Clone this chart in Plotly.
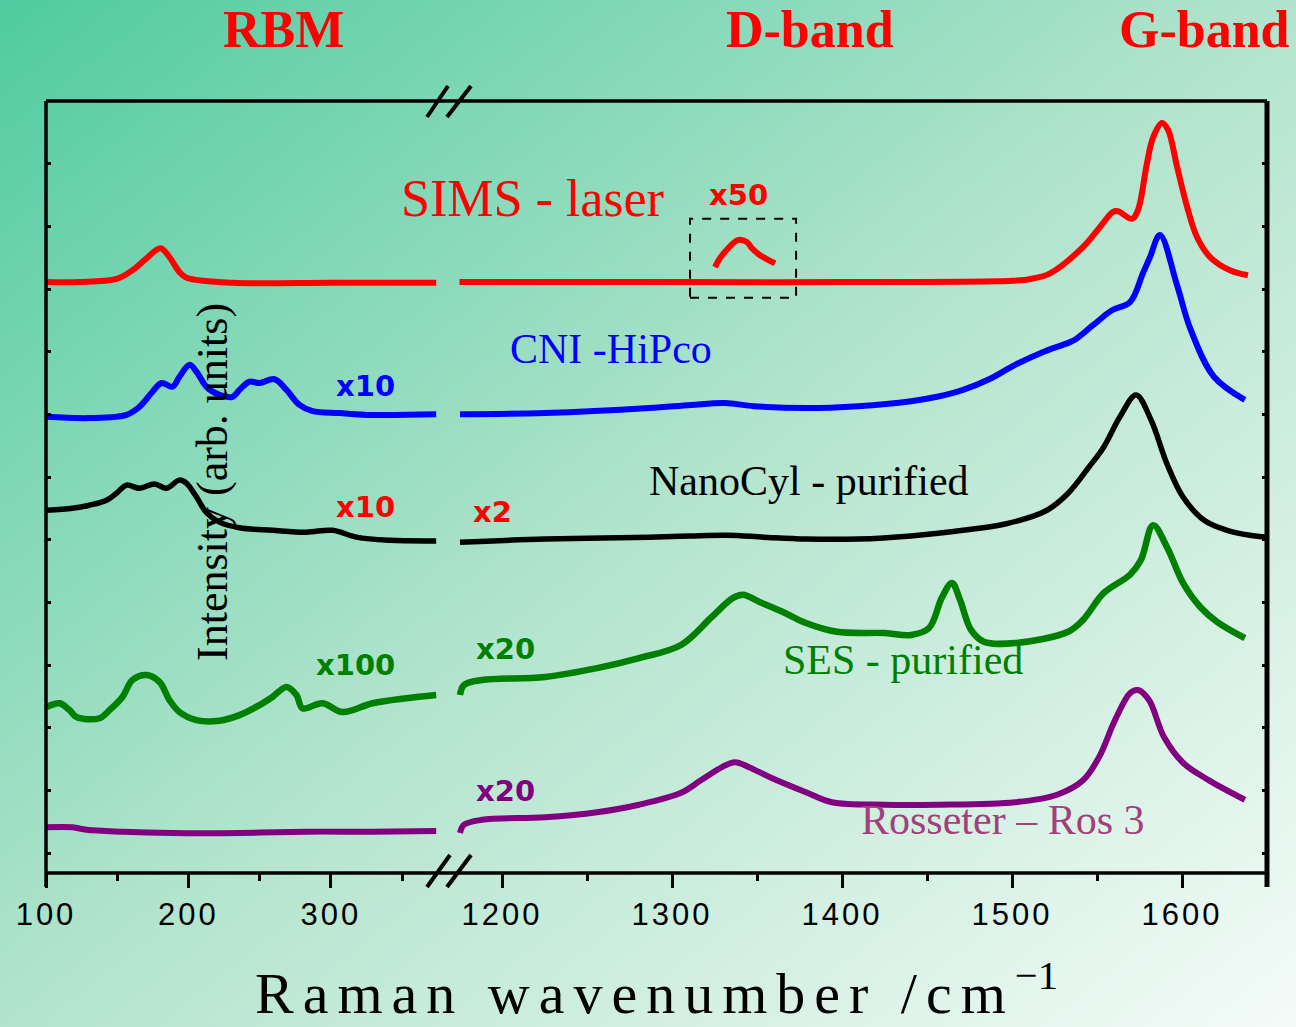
import base64
import plotly.graph_objects as go

# ---------------- data (Raman shift in cm^-1, intensity in offset arb. units) -------------
sims_low_x = [100, 123.5, 149.5, 160.7, 170.6, 180.4, 186.7, 193.7, 198.7, 231, 301.2, 374]
sims_low_y = [9.11, 9.11, 9.16, 9.30, 9.49, 9.65, 9.51, 9.27, 9.18, 9.10, 9.10, 9.10]
sims_high_x = [1175, 1300, 1400, 1500, 1511, 1522.4, 1541.8, 1551.8, 1559.4, 1562.4, 1570.6,
               1574.1, 1579.4, 1583, 1588.2, 1591.8, 1597.1, 1603, 1608.8, 1616.5, 1628.2, 1638.8]
sims_high_y = [9.11, 9.11, 9.11, 9.13, 9.16, 9.25, 9.67, 9.99, 10.23, 10.24, 10.12,
               10.26, 11.01, 11.42, 11.65, 11.54, 10.95, 10.31, 9.83, 9.51, 9.30, 9.22]
sims_d_x50_x = [1325.3, 1328.2, 1333, 1338.8, 1344, 1347, 1351.8, 1360.6]
sims_d_x50_y = [9.35, 9.49, 9.65, 9.78, 9.75, 9.65, 9.54, 9.41]

cni_low_x = [100, 130.5, 156.5, 165.7, 174.8, 181.1, 188.8, 193.7, 200.8, 205.7, 212.7, 221.8,
             231, 235.9, 242.9, 249.9, 260.5, 268.9, 278, 287.2, 306.1, 329.3, 374]
cni_low_y = [6.96, 6.94, 6.99, 7.12, 7.36, 7.50, 7.44, 7.60, 7.79, 7.68, 7.44, 7.31,
             7.28, 7.39, 7.52, 7.50, 7.56, 7.39, 7.15, 7.05, 7.02, 6.99, 7.00]
cni_high_x = [1175.3, 1225.3, 1286.5, 1311.2, 1331.2, 1348.2, 1378.8, 1409.4, 1440.6, 1455.9,
              1471.2, 1486.5, 1501.8, 1517, 1533, 1537, 1548, 1558.8, 1569.4, 1577, 1581.2,
              1587, 1597.1, 1604.7, 1618.8, 1637]
cni_high_y = [7.00, 7.02, 7.10, 7.15, 7.18, 7.13, 7.10, 7.13, 7.21, 7.28,
              7.39, 7.56, 7.79, 7.98, 8.14, 8.19, 8.43, 8.66, 8.79, 9.25, 9.51,
              9.86, 9.06, 8.38, 7.60, 7.23]

nano_low_x = [100.4, 118.6, 130.5, 142.5, 149.5, 156.5, 165.7, 176.2, 184.6, 193.7, 198.7,
              205.7, 212.7, 221.8, 235.9, 259, 282.9, 301.2, 318, 341.2, 374]
nano_low_y = [5.47, 5.50, 5.55, 5.63, 5.74, 5.87, 5.82, 5.89, 5.82, 5.95, 5.90,
              5.68, 5.43, 5.28, 5.19, 5.15, 5.12, 5.15, 5.04, 4.99, 4.98]
nano_high_x = [1175.3, 1225.3, 1286.5, 1311.2, 1333, 1354, 1378.8, 1409.4, 1440.6, 1471.2,
               1496, 1520.6, 1533, 1545.3, 1554, 1563.5, 1573, 1581.8, 1591, 1600.6, 1613,
               1626.5, 1640, 1650]
nano_high_y = [4.96, 5.01, 5.04, 5.06, 5.07, 5.04, 5.01, 5.01, 5.06, 5.15,
               5.25, 5.47, 5.74, 6.16, 6.48, 6.96, 7.31, 6.91, 6.22, 5.68, 5.31,
               5.15, 5.07, 5.04]

ses_low_x = [100.4, 109.5, 116.5, 121.4, 137.6, 144.6, 153.7, 160.7, 170.6, 179.7, 186.7,
             193.7, 205.7, 221.8, 235.9, 249.9, 259, 268.9, 275.9, 280.1, 294.2, 308.2,
             329.3, 353.2, 374]
ses_low_y = [2.33, 2.39, 2.28, 2.17, 2.15, 2.28, 2.49, 2.76, 2.84, 2.73, 2.44,
             2.25, 2.12, 2.11, 2.20, 2.36, 2.49, 2.65, 2.52, 2.31, 2.39, 2.25,
             2.39, 2.47, 2.52]
ses_high_x = [1175.3, 1177.6, 1188.2, 1225.3, 1255.9, 1280.6, 1305.3, 1323.5, 1335.9, 1341.8,
              1351.2, 1366.5, 1378.8, 1397, 1425.3, 1440.6, 1451.2, 1458.8, 1464.7, 1469.4,
              1475.9, 1483.5, 1501.8, 1533, 1541.8, 1554, 1569.4, 1575.9, 1583, 1591.2,
              1600.6, 1610.6, 1620.6, 1637]
ses_high_y = [2.52, 2.68, 2.76, 2.81, 2.95, 3.11, 3.32, 3.77, 4.07, 4.12,
              4.01, 3.83, 3.67, 3.53, 3.51, 3.48, 3.59, 4.08, 4.31, 4.04,
              3.56, 3.37, 3.35, 3.53, 3.72, 4.15, 4.44, 4.68, 5.23, 4.88,
              4.31, 3.93, 3.69, 3.43]

ros_low_x = [100, 118.6, 128.4, 153.7, 188.8, 235.9, 282.9, 329.3, 374]
ros_low_y = [0.41, 0.41, 0.37, 0.34, 0.32, 0.32, 0.34, 0.34, 0.35]
ros_high_x = [1175.3, 1177.6, 1188.2, 1225.3, 1255.9, 1280.6, 1305.3, 1317, 1329.4, 1337,
              1345.3, 1357.6, 1378.8, 1394.1, 1425.3, 1455.9, 1501.8, 1526.5, 1541.8, 1551.2,
              1560.6, 1569.4, 1574.1, 1580.6, 1589.4, 1600.6, 1615.9, 1637]
ros_high_y = [0.32, 0.45, 0.53, 0.57, 0.65, 0.77, 0.96, 1.16, 1.37, 1.45,
              1.37, 1.21, 0.97, 0.81, 0.77, 0.77, 0.81, 0.93, 1.16, 1.53,
              2.12, 2.55, 2.60, 2.44, 1.85, 1.44, 1.16, 0.85]

low_ticks = [100, 200, 300]
low_minor = [150, 250, 350]
high_ticks = [1200, 1300, 1400, 1500, 1600]
high_minor = [1250, 1350, 1450, 1550]

# ---------------- geometry helpers (pixel -> paper) ----------------
W, H = 1296, 1027
ML, MR, MT, MB = 46, 29, 101, 154
PW = W - ML - MR
PH = H - MT - MB


def qx(p):
    return (p - ML) / PW


def qy(p):
    return (MT + PH - p) / PH


SERIF = "Liberation Serif"
SANS = "DejaVu Sans"

fig = go.Figure()

series = [
    (sims_low_x, sims_low_y, sims_high_x, sims_high_y, "#ff0000", 6),
    (cni_low_x, cni_low_y, cni_high_x, cni_high_y, "#0000ff", 6),
    (nano_low_x, nano_low_y, nano_high_x, nano_high_y, "#000000", 5.5),
    (ses_low_x, ses_low_y, ses_high_x, ses_high_y, "#008000", 6.5),
    (ros_low_x, ros_low_y, ros_high_x, ros_high_y, "#800080", 6),
]
for lx, ly, hx, hy, col, w in series:
    fig.add_trace(go.Scatter(x=lx, y=ly, mode="lines", xaxis="x", yaxis="y",
                             line=dict(color=col, width=w, shape="spline", smoothing=1.0),
                             showlegend=False, hoverinfo="skip"))
    fig.add_trace(go.Scatter(x=hx, y=hy, mode="lines", xaxis="x2", yaxis="y2",
                             line=dict(color=col, width=w, shape="spline", smoothing=1.0),
                             showlegend=False, hoverinfo="skip"))
fig.add_trace(go.Scatter(x=sims_d_x50_x, y=sims_d_x50_y, mode="lines", xaxis="x2", yaxis="y2",
                         line=dict(color="#ff0000", width=6, shape="spline", smoothing=1.0),
                         showlegend=False, hoverinfo="skip"))

tickfont = dict(family="Liberation Sans", size=31, color="black")


def tt(v):
    return '<span style="letter-spacing:3px">%d</span>' % v


yr = [-20 / 62.67, 12]
fig.update_layout(
    width=W, height=H,
    margin=dict(l=ML, r=MR, t=MT, b=MB),
    paper_bgcolor="white",
    plot_bgcolor="rgba(0,0,0,0)",
    xaxis=dict(domain=[0, qx(ML + 276 * 1.424)], range=[100, 376], anchor="y",
               showgrid=False, zeroline=False, showline=False,
               ticks="outside", ticklen=14, tickwidth=3, tickcolor="black",
               tickvals=low_ticks, ticktext=[tt(v) for v in low_ticks], tickfont=tickfont,
               minor=dict(tickvals=low_minor, ticks="outside", ticklen=7, tickwidth=3,
                          tickcolor="black", showgrid=False)),
    xaxis2=dict(domain=[qx(451), 1], range=[1170, 1650], anchor="y2",
                showgrid=False, zeroline=False, showline=False,
                ticks="outside", ticklen=14, tickwidth=3, tickcolor="black",
                tickvals=high_ticks, ticktext=[tt(v) for v in high_ticks], tickfont=tickfont,
                minor=dict(tickvals=high_minor, ticks="outside", ticklen=7, tickwidth=3,
                           tickcolor="black", showgrid=False)),
    yaxis=dict(range=yr, anchor="x", showgrid=False, zeroline=False, showline=False,
               ticks="inside", ticklen=5, tickwidth=2.5, tickcolor="black",
               tickvals=list(range(0, 12)), showticklabels=False),
    yaxis2=dict(range=yr, anchor="x2", overlaying="y", side="right", showgrid=False,
                zeroline=False, showline=False, ticks="inside", ticklen=5, tickwidth=2.5,
                tickcolor="black", tickvals=list(range(0, 12)), showticklabels=False),
)

# background gradient
svg = ('<svg xmlns="http://www.w3.org/2000/svg" width="1296" height="1027" '
       'viewBox="0 0 1296 1027" preserveAspectRatio="none"><defs>'
       '<linearGradient id="g" x1="0" y1="0" x2="1" y2="1">'
       '<stop offset="0" stop-color="#50cba0"/>'
       '<stop offset="0.5" stop-color="#b2e4cd"/>'
       '<stop offset="1" stop-color="#f4fbf8"/>'
       '</linearGradient></defs><rect width="1296" height="1027" fill="url(#g)"/></svg>')
src = "data:image/svg+xml;base64," + base64.b64encode(svg.encode()).decode()
fig.add_layout_image(dict(source=src, xref="paper", yref="paper", x=qx(0), y=qy(0),
                          sizex=W / PW, sizey=H / PH, sizing="stretch",
                          xanchor="left", yanchor="top", layer="below"))

# frame and axis break
shapes = []
lw = 3.5
shapes.append(dict(type="line", xref="paper", yref="paper", x0=0, x1=1, y0=0, y1=0,
                   line=dict(color="black", width=lw)))
shapes.append(dict(type="line", xref="paper", yref="paper", x0=0, x1=1, y0=1, y1=1,
                   line=dict(color="black", width=lw)))
shapes.append(dict(type="line", xref="paper", yref="paper", x0=0, x1=0, y0=qy(887), y1=1,
                   line=dict(color="black", width=lw)))
shapes.append(dict(type="line", xref="paper", yref="paper", x0=1, x1=1, y0=qy(887), y1=1,
                   line=dict(color="black", width=5)))
for (ax0, ay0, ax1, ay1) in [(427, 887, 450, 855), (447, 887, 471, 855),
                             (427, 117, 448, 86), (447, 117, 471, 86)]:
    shapes.append(dict(type="line", xref="paper", yref="paper", x0=qx(ax0), y0=qy(ay0),
                       x1=qx(ax1), y1=qy(ay1), line=dict(color="black", width=4)))
# dashed box around x50 D-band inset
shapes.append(dict(type="rect", xref="x2", yref="y2", x0=1310.6, x1=1373, y0=8.86, y1=10.12,
                   line=dict(color="black", width=2, dash="dash")))
fig.update_layout(shapes=shapes)


def ann(text, x, y, size, color, family=SERIF, bold=False, xanchor="center", angle=0):
    return dict(text=text, x=qx(x), y=qy(y), xref="paper", yref="paper", showarrow=False,
                xanchor=xanchor, yanchor="middle", textangle=angle,
                font=dict(family=family, size=size, color=color,
                          weight="bold" if bold else "normal"))


anns = [
    ann("RBM", 283, 30, 52, "#ff0000", bold=True),
    ann("D-band", 810, 30, 52, "#ff0000", bold=True),
    ann("G-band", 1204, 30, 52, "#ff0000", bold=True),
    ann("SIMS - laser", 532, 198, 52, "#ff0000"),
    ann("CNI -HiPco", 611, 349, 42, "#0000ff"),
    ann("NanoCyl - purified", 809, 481, 42, "#000000"),
    ann("SES - purified", 903, 660, 42, "#008000"),
    ann("Rosseter \u2013 Ros 3", 1003, 820, 42, "#a2407a"),
    ann("x50", 738, 195, 29, "#ff0000", family=SANS, bold=True),
    ann("x10", 365, 386, 29, "#0000ff", family=SANS, bold=True),
    ann("x10", 365, 507, 29, "#ff0000", family=SANS, bold=True),
    ann("x2", 493, 512, 29, "#ff0000", family=SANS, bold=True),
    ann("x100", 355, 665, 29, "#008000", family=SANS, bold=True),
    ann("x20", 505, 649, 29, "#008000", family=SANS, bold=True),
    ann("x20", 505, 791, 29, "#800080", family=SANS, bold=True),
    ann("Intensity (arb. units)", 212, 482, 44, "#000000", angle=-90),
    ann('<span style="letter-spacing:9px">Raman wavenumber /cm</span>'
        '<sup>\u22121</sup>', 253, 989, 58, "#000000", xanchor="left"),
]
fig.update_layout(annotations=anns)

fig.write_html("out.html")
